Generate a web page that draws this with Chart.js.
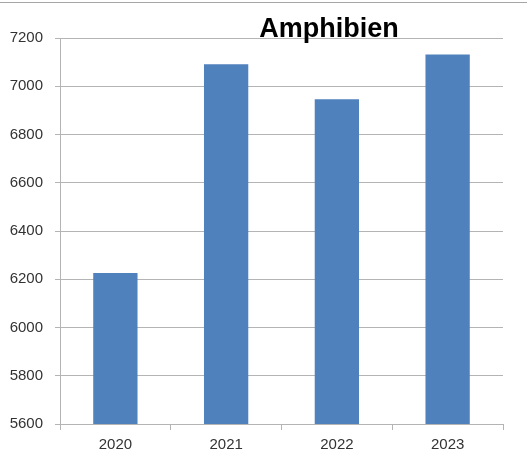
<!DOCTYPE html>
<html>
<head>
<meta charset="utf-8">
<script src="https://cdn.jsdelivr.net/npm/chart.js@4/dist/chart.umd.min.js"></script>
<style>
    body { margin: 0; background: #fff; }
    #wrap { position: relative; width: 527px; height: 459px; }
    #topLine { position: absolute; left: 0; top: 2px; width: 527px; height: 1px; background: #a6a6a6; }
</style>
</head>
<body>
<div id="wrap">
    <canvas id="amphChart" width="527" height="459"></canvas>
    <div id="topLine"></div>
</div>
<script>
// Data
const years = ['2020', '2021', '2022', '2023'];
const counts = [6226, 7091, 6946, 7132];
const yMin = 5600;
const yMax = 7200;
const yStep = 200;
const chartTitle = 'Amphibien';

// Title drawn over the plot area, like the original
const titlePlugin = {
    id: 'overTitle',
    afterDraw(chart) {
        const ctx = chart.ctx;
        ctx.save();
        ctx.font = 'bold 27px "Liberation Sans", Arial, sans-serif';
        ctx.fillStyle = '#000';
        ctx.textAlign = 'center';
        ctx.textBaseline = 'alphabetic';
        ctx.fillText(chartTitle, 329, 37);
        ctx.restore();
    }
};

const gridGrey = '#b4b4b4';
const tickFont = { family: '"Liberation Sans", Arial, sans-serif', size: 15 };

new Chart(document.getElementById('amphChart').getContext('2d'), {
    type: 'bar',
    data: {
        labels: years,
        datasets: [{
            data: counts,
            backgroundColor: '#4f81bd',
            borderWidth: 0,
            categoryPercentage: 1.0,
            barPercentage: 0.4
        }]
    },
    options: {
        responsive: false,
        animation: false,
        layout: {
            padding: { left: 0, right: 24, top: 38, bottom: 0 }
        },
        scales: {
            x: {
                offset: true,
                grid: {
                    offset: true,
                    drawOnChartArea: false,
                    drawTicks: true,
                    tickLength: 6,
                    color: gridGrey
                },
                border: { display: true, color: gridGrey },
                ticks: { color: '#333', font: tickFont, padding: 6 },
                afterFit: scale => { scale.height = 35; }
            },
            y: {
                min: yMin,
                max: yMax,
                grid: {
                    color: gridGrey,
                    drawTicks: true,
                    tickLength: 5
                },
                border: { display: true, color: gridGrey },
                ticks: {
                    stepSize: yStep,
                    color: '#333',
                    font: tickFont,
                    padding: 12,
                    callback: value => String(value)
                },
                afterFit: scale => { scale.width = 60; }
            }
        },
        plugins: {
            legend: { display: false },
            tooltip: { enabled: false },
            title: { display: false }
        }
    },
    plugins: [titlePlugin]
});
</script>
</body>
</html>
